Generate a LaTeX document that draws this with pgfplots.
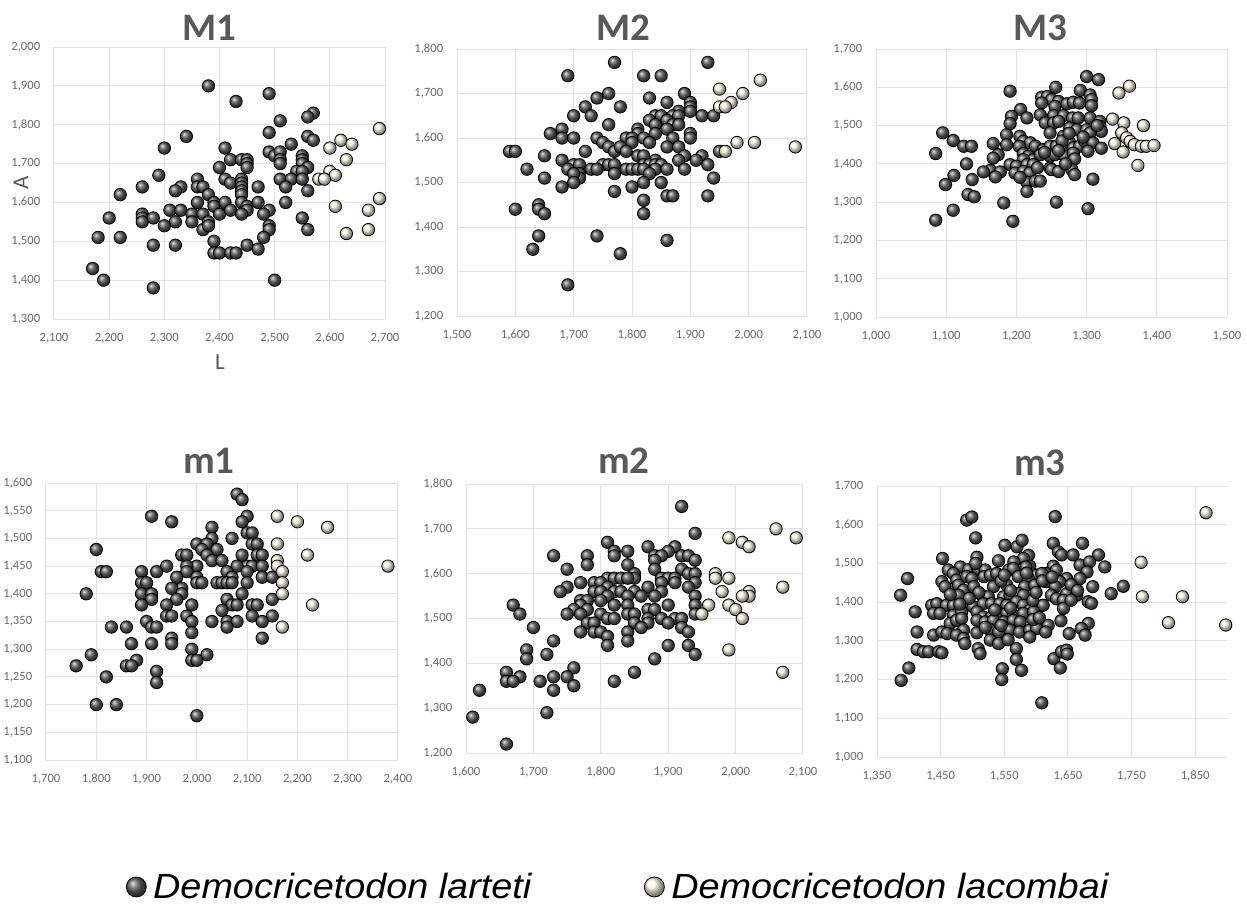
\documentclass[border=0pt]{standalone}
\usepackage{pgfplots}
\pgfplotsset{compat=1.18}
\usepackage{fontspec}
\setmainfont{Carlito}
\newfontfamily\legfont[FakeStretch=1.08]{Liberation Sans}
\definecolor{titlegray}{RGB}{89,89,89}
\definecolor{tickgray}{RGB}{105,105,105}
\definecolor{gridgray}{RGB}{226,226,226}
\colorlet{darkball}{black!63}
\definecolor{lightball}{RGB}{250,248,234}

\pgfplotsset{
  panel/.style={
    scale only axis,
    anchor=south west,
    grid=major,
    grid style={gridgray, line width=0.5pt},
    axis line style={draw=none},
    tick style={draw=none},
    scaled ticks=false,
    clip=false,
    ticklabel style={font=\fontsize{6.3}{7}\selectfont, text=tickgray},
    xticklabel style={yshift=-3.5pt},
    yticklabel style={xshift=-3.4pt},
    /pgf/number format/assume math mode=true,
    /pgf/number format/1000 sep={,},
  },
  lart/.style={only marks, mark=ball, mark size=3.1pt, mark options={ball color=darkball, draw=none}},
  lacb/.style={only marks, mark=ball, mark size=3.1pt, mark options={ball color=lightball, draw=none}},
}
\newcommand{\ptitle}[1]{\fontsize{19.5}{22}\selectfont\bfseries\color{titlegray}#1}

\begin{document}
\begin{tikzpicture}
\useasboundingbox (0,0) rectangle (623.5pt,-453.5pt);

% ---- M1
\begin{axis}[panel, at={(27pt,-159.5pt)}, width=165.5pt, height=136pt,
  xmin=2100, xmax=2700, xtick={2100,2200,...,2700},
  ymin=1300, ymax=2000, ytick={1300,1400,...,2000}]
\addplot[lart] table {
2380 1900
2490 1880
2430 1860
2570 1830
2560 1820
2510 1810
2340 1770
2490 1780
2560 1770
2570 1760
2300 1740
2410 1740
2530 1750
2490 1730
2500 1720
2510 1730
2510 1710
2510 1700
2420 1710
2440 1710
2450 1710
2450 1700
2450 1690
2400 1690
2550 1720
2550 1710
2550 1700
2560 1690
2540 1680
2550 1680
2290 1670
2410 1660
2420 1650
2440 1660
2440 1650
2440 1640
2440 1630
2440 1620
2510 1660
2530 1660
2520 1640
2550 1660
2470 1640
2260 1640
2330 1640
2320 1630
2360 1660
2360 1640
2370 1640
2380 1620
2220 1620
2560 1630
2390 1600
2390 1590
2360 1600
2410 1600
2400 1570
2440 1600
2450 1590
2450 1580
2470 1600
2520 1600
2310 1580
2330 1580
2320 1550
2420 1580
2440 1570
2490 1580
2480 1570
2200 1560
2260 1570
2260 1560
2260 1550
2280 1560
2300 1540
2350 1570
2350 1550
2370 1570
2370 1530
2380 1550
2380 1540
2490 1540
2490 1530
2550 1560
2560 1530
2180 1510
2220 1510
2480 1510
2390 1500
2280 1490
2320 1490
2450 1490
2470 1480
2390 1470
2400 1470
2420 1470
2430 1470
2170 1430
2190 1400
2500 1400
2280 1380
};
\addplot[lacb] table {
2600 1740
2620 1760
2640 1750
2690 1790
2630 1710
2600 1680
2610 1670
2580 1660
2590 1660
2610 1590
2690 1610
2670 1580
2670 1530
2630 1520
};
\end{axis}

% ---- M2
\begin{axis}[panel, at={(228.5pt,-158pt)}, width=175pt, height=133.5pt,
  xmin=1500, xmax=2100, xtick={1500,1600,...,2100},
  ymin=1200, ymax=1800, ytick={1200,1300,...,1800}]
\addplot[lart] table {
1770 1770
1930 1770
1690 1740
1820 1740
1850 1740
1760 1700
1740 1690
1830 1690
1890 1700
1900 1680
1900 1670
1900 1660
1860 1680
1720 1670
1780 1670
1700 1650
1730 1650
1840 1650
1850 1650
1880 1660
1870 1650
1880 1650
1920 1650
1940 1650
1830 1640
1860 1640
1870 1630
1880 1630
1840 1630
1840 1610
1760 1630
1680 1620
1860 1620
1810 1620
1810 1610
1660 1610
1680 1600
1700 1600
1740 1600
1750 1590
1790 1600
1800 1600
1800 1590
1820 1600
1830 1590
1870 1600
1900 1610
1900 1600
1760 1580
1770 1570
1780 1580
1790 1570
1860 1580
1880 1580
1590 1570
1600 1570
1720 1570
1890 1560
1920 1560
1950 1570
1650 1560
1810 1560
1820 1560
1680 1550
1880 1550
1840 1550
1700 1540
1710 1540
1750 1540
1760 1540
1770 1540
1820 1540
1830 1540
1840 1540
1850 1540
1930 1540
1910 1550
1620 1530
1690 1530
1730 1530
1740 1530
1790 1530
1800 1530
1810 1530
1820 1530
1840 1530
1860 1530
1890 1530
1710 1520
1710 1510
1700 1520
1770 1520
1830 1520
1650 1510
1940 1510
1700 1500
1820 1500
1850 1500
1680 1490
1800 1490
1770 1480
1860 1470
1870 1470
1930 1470
1820 1460
1600 1440
1640 1450
1640 1440
1650 1430
1820 1430
1640 1380
1740 1380
1630 1350
1860 1370
1780 1340
1690 1270
};
\addplot[lacb] table {
1950 1710
2020 1730
1990 1700
1970 1680
1950 1670
1960 1670
1980 1590
2010 1590
1960 1570
2080 1580
};
\end{axis}

% ---- M3
\begin{axis}[panel, at={(438pt,-158.5pt)}, width=175.5pt, height=134pt,
  xmin=1000, xmax=1500, xtick={1000,1100,...,1500},
  ymin=1000, ymax=1700, ytick={1000,1100,...,1700}]
\addplot[lart] table {
1300 1628
1317 1620
1191 1590
1256 1600
1291 1592
1236 1574
1244 1576
1250 1568
1260 1563
1305 1580
1307 1568
1236 1559
1272 1557
1281 1561
1290 1559
1255 1550
1307 1552
1234 1528
1206 1542
1215 1520
1193 1524
1191 1505
1253 1526
1267 1526
1280 1520
1288 1520
1305 1520
1319 1511
1319 1498
1241 1507
1253 1507
1260 1511
1276 1494
1286 1489
1300 1489
1321 1485
1305 1481
1248 1481
1267 1472
1095 1481
1186 1476
1205 1472
1210 1459
1220 1455
1110 1461
1125 1446
1136 1446
1167 1453
1186 1450
1204 1446
1227 1446
1238 1437
1248 1446
1257 1446
1267 1441
1276 1455
1281 1442
1290 1446
1297 1460
1309 1455
1321 1441
1302 1433
1085 1427
1174 1424
1167 1415
1210 1427
1217 1420
1224 1411
1210 1411
1234 1424
1248 1420
1255 1424
1269 1420
1281 1428
1283 1413
1129 1400
1191 1398
1200 1394
1215 1398
1224 1398
1248 1389
1163 1383
1153 1379
1177 1379
1198 1376
1210 1380
1219 1376
1250 1385
1260 1380
1279 1385
1283 1372
1170 1366
1099 1346
1111 1370
1137 1359
1215 1352
1227 1355
1234 1355
1309 1360
1131 1320
1140 1314
1215 1328
1110 1279
1182 1298
1257 1300
1085 1253
1195 1250
1302 1283
1240 1430
1265 1460
1275 1480
1295 1470
1315 1500
1230 1390
1205 1365
1270 1400
1260 1435
};
\addplot[lacb] table {
1346 1585
1361 1603
1337 1517
1353 1507
1381 1500
1350 1481
1357 1468
1362 1459
1340 1453
1368 1450
1378 1446
1385 1446
1396 1448
1352 1431
1373 1396
};
\end{axis}

% ---- m1
\begin{axis}[panel, at={(23pt,-380pt)}, width=176pt, height=138.5pt,
  xmin=1700, xmax=2400, xtick={1700,1800,...,2400},
  ymin=1100, ymax=1600, ytick={1100,1150,...,1600}]
\addplot[lart] table {
2080 1580
2090 1570
1910 1540
1950 1530
2100 1540
2090 1530
2030 1520
2100 1510
2110 1510
2030 1500
2070 1500
2000 1490
2020 1490
2110 1490
2120 1490
2010 1480
2040 1480
1800 1480
2020 1470
2030 1460
1970 1470
1980 1470
2090 1470
2120 1470
2130 1470
2050 1460
2100 1450
2110 1450
1940 1450
2000 1450
1980 1450
2080 1450
2130 1450
1810 1440
1820 1440
1890 1440
1920 1440
1980 1440
2060 1440
2100 1440
1960 1430
2000 1430
2070 1430
2130 1430
2150 1430
1890 1420
1900 1420
2000 1420
2010 1420
2040 1420
2050 1420
2060 1420
2070 1420
2100 1420
1970 1410
1950 1410
1780 1400
1890 1400
1910 1400
1970 1400
2090 1400
1910 1390
1960 1390
2060 1390
2150 1390
1890 1380
1940 1380
1990 1380
2070 1380
2080 1380
2110 1380
2120 1380
1940 1360
1950 1360
1980 1360
2050 1370
2110 1360
2150 1360
1900 1350
1990 1350
2030 1350
2060 1350
2080 1350
2130 1350
1830 1340
1860 1340
1910 1340
1920 1340
2060 1340
1990 1330
1950 1320
1950 1310
2130 1320
1870 1310
1910 1310
1990 1300
1790 1290
2020 1290
1880 1280
1990 1280
2000 1280
1760 1270
1860 1270
1870 1270
1920 1260
1820 1250
1920 1240
1800 1200
1840 1200
2000 1180
};
\addplot[lacb] table {
2160 1540
2200 1530
2260 1520
2160 1490
2220 1470
2160 1460
2160 1450
2170 1440
2170 1420
2170 1400
2230 1380
2170 1340
2380 1450
};
\end{axis}

% ---- m2 (carries the legend)
\begin{axis}[panel, at={(233pt,-376.5pt)}, width=168.5pt, height=134.5pt,
  xmin=1600, xmax=2100, xtick={1600,1700,...,2100},
  ymin=1200, ymax=1800, ytick={1200,1300,...,1800},
  legend columns=2,
  legend image code/.code={\draw[#1] plot coordinates {(0pt,0pt)};},
  legend style={at={(-1.0104,-0.498)}, anchor=west, draw=none, fill=none,
    inner sep=0pt,
    font=\legfont\itshape\fontsize{17.5}{20}\selectfont,
    /tikz/every odd column/.append style={column sep=1.25pt},
    /tikz/every even column/.append style={column sep=54.3pt}},
  legend cell align=left]
\addlegendimage{lart, mark size=5pt}
\addlegendentry{Democricetodon larteti}
\addlegendimage{lacb, mark size=5pt}
\addlegendentry{Democricetodon lacombai}
\addplot[lart] table {
1920 1750
1940 1690
1810 1670
1870 1660
1910 1660
1900 1650
1820 1650
1820 1640
1840 1650
1730 1640
1780 1640
1880 1640
1890 1640
1920 1640
1930 1640
1940 1630
1880 1630
1840 1620
1780 1620
1750 1610
1880 1610
1920 1610
1850 1600
1850 1590
1930 1600
1940 1600
1810 1590
1820 1590
1830 1590
1790 1580
1800 1580
1770 1580
1890 1590
1900 1590
1910 1590
1840 1590
1940 1580
1890 1580
1910 1580
1750 1570
1870 1570
1930 1570
1810 1570
1790 1560
1800 1560
1820 1560
1830 1560
1740 1560
1890 1560
1850 1560
1840 1550
1860 1550
1880 1550
1940 1550
1810 1550
1770 1540
1780 1540
1800 1540
1820 1530
1840 1530
1670 1530
1770 1530
1900 1530
1940 1530
1760 1520
1780 1520
1870 1520
1880 1520
1750 1510
1680 1510
1800 1510
1840 1510
1850 1510
1940 1510
1770 1510
1870 1500
1890 1500
1910 1500
1920 1500
1810 1500
1820 1500
1780 1490
1790 1490
1850 1490
1870 1490
1900 1490
1700 1480
1860 1480
1920 1480
1770 1470
1790 1470
1800 1470
1840 1470
1930 1470
1810 1460
1730 1450
1840 1450
1810 1440
1900 1440
1930 1440
1690 1430
1720 1420
1940 1420
1690 1410
1880 1410
1660 1380
1760 1390
1850 1380
1680 1370
1730 1370
1750 1370
1660 1360
1670 1360
1710 1360
1820 1360
1760 1350
1620 1340
1730 1340
1610 1280
1720 1290
1660 1220
};
\addplot[lacb] table {
2060 1700
1990 1680
2010 1670
2020 1660
2090 1680
1970 1600
1970 1590
1990 1590
2070 1570
1980 1560
2020 1560
2020 1550
2010 1550
1960 1530
1990 1530
2000 1520
1950 1510
2010 1500
1990 1430
2070 1380
};
\end{axis}

% ---- m3
\begin{axis}[panel, at={(438.5pt,-378.5pt)}, width=175pt, height=135.5pt,
  xmin=1350, xmax=1900, xtick={1350,1450,...,1850},
  ymin=1000, ymax=1700, ytick={1000,1100,...,1700}]
\addplot[lart] table {
1491 1612
1499 1620
1630 1621
1505 1566
1551 1547
1570 1543
1578 1560
1627 1552
1673 1552
1635 1530
1640 1522
1588 1521
1580 1513
1658 1522
1698 1522
1453 1513
1507 1516
1541 1507
1565 1504
1708 1491
1669 1496
1684 1504
1627 1493
1590 1493
1584 1491
1481 1491
1494 1484
1509 1484
1520 1483
1557 1483
1564 1487
1680 1478
1398 1461
1462 1483
1470 1474
1616 1474
1632 1483
1601 1470
1609 1474
1648 1461
1669 1461
1452 1453
1457 1440
1475 1457
1491 1466
1499 1461
1518 1466
1528 1470
1538 1474
1572 1466
1588 1461
1616 1453
1637 1453
1689 1440
1737 1441
1718 1422
1387 1418
1478 1444
1486 1431
1502 1440
1533 1440
1554 1444
1582 1440
1598 1444
1630 1440
1648 1422
1664 1418
1515 1418
1525 1414
1478 1418
1549 1414
1559 1418
1572 1422
1580 1418
1624 1418
1632 1409
1410 1375
1436 1392
1444 1396
1459 1392
1470 1392
1491 1396
1501 1388
1517 1396
1530 1396
1543 1396
1554 1392
1569 1401
1580 1392
1590 1379
1603 1388
1611 1392
1643 1405
1643 1384
1682 1401
1687 1397
1439 1371
1449 1371
1470 1366
1483 1375
1507 1375
1517 1362
1530 1362
1541 1371
1554 1371
1564 1366
1580 1371
1596 1375
1465 1345
1475 1353
1483 1358
1507 1353
1520 1349
1533 1353
1549 1349
1564 1353
1575 1349
1619 1340
1639 1352
1682 1345
1671 1332
1413 1323
1439 1315
1452 1323
1460 1319
1486 1328
1475 1315
1507 1321
1528 1328
1541 1323
1559 1328
1574 1323
1590 1328
1601 1332
1615 1323
1652 1319
1677 1315
1486 1306
1488 1293
1528 1302
1541 1293
1556 1303
1590 1310
1413 1278
1423 1272
1431 1272
1447 1272
1452 1269
1509 1280
1512 1267
1569 1280
1569 1252
1628 1254
1640 1272
1648 1276
1649 1266
1400 1230
1388 1198
1547 1228
1546 1200
1577 1224
1638 1230
1609 1140
1505 1500
1545 1455
1560 1430
1595 1405
1610 1455
1625 1465
1655 1445
1665 1430
1510 1425
1495 1410
1535 1380
1560 1385
1520 1335
1545 1340
1595 1355
1605 1360
1480 1395
1465 1420
1550 1470
1600 1425
1585 1475
1655 1405
};
\addplot[lacb] table {
1765 1503
1767 1414
1830 1414
1808 1347
1867 1631
1898 1341
};
\end{axis}

% panel titles and axis titles
\node[anchor=base] at (104.5pt,-20pt) {\ptitle{M1}};
\node[anchor=base] at (311.5pt,-20pt) {\ptitle{M2}};
\node[anchor=base] at (520pt,-20pt) {\ptitle{M3}};
\node[anchor=base] at (104.5pt,-236.7pt) {\ptitle{m1}};
\node[anchor=base] at (312pt,-236.5pt) {\ptitle{m2}};
\node[anchor=base] at (520pt,-237.5pt) {\ptitle{m3}};
\node[text=titlegray, font=\fontsize{11.5}{13}\selectfont] at (110pt,-181pt) {L};
\node[text=titlegray, font=\fontsize{11.5}{13}\selectfont, rotate=90] at (10.5pt,-91.5pt) {A};
\end{tikzpicture}
\end{document}
